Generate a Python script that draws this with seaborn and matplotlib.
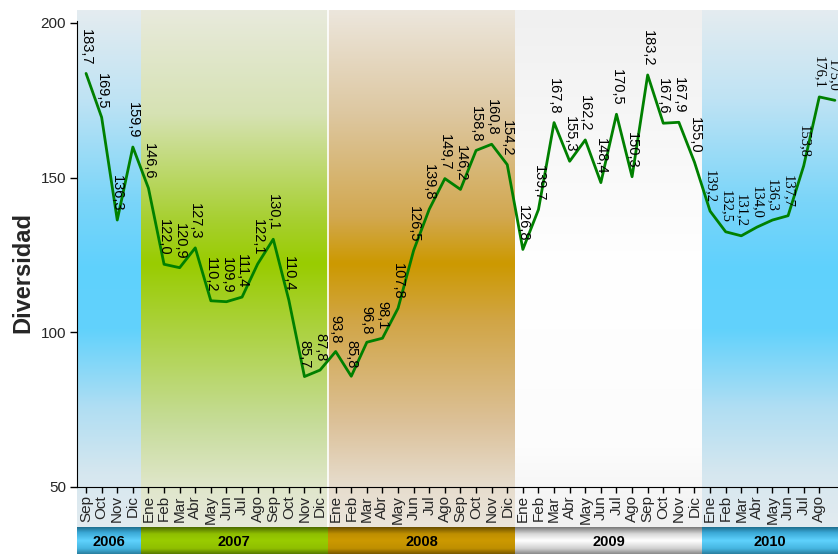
"""
Diversidad mensual Sep 2006 - Sep 2010, con bandas de color por año.
"""
import numpy as np
import matplotlib.pyplot as plt
import seaborn as sns
from matplotlib.colors import to_rgb

sns.set_style("ticks")
plt.rcParams["font.family"] = ["Liberation Sans", "DejaVu Sans"]

# ---------------------------------------------------------------
# Data
# ---------------------------------------------------------------
months_2006 = ["Sep", "Oct", "Nov", "Dic"]
months_full = ["Ene", "Feb", "Mar", "Abr", "May", "Jun",
               "Jul", "Ago", "Sep", "Oct", "Nov", "Dic"]
months_2010 = ["Ene", "Feb", "Mar", "Abr", "May", "Jun", "Jul", "Ago", "Sep"]

vals_2006 = [183.7, 169.5, 136.3, 159.9]
vals_2007 = [146.6, 122.0, 120.9, 127.3, 110.2, 109.9, 111.4, 122.1, 130.1, 110.4, 85.7, 87.8]
vals_2008 = [93.8, 85.8, 96.8, 98.1, 107.8, 126.5, 139.8, 149.7, 146.2, 158.8, 160.8, 154.2]
vals_2009 = [126.8, 139.7, 167.8, 155.3, 162.2, 148.4, 170.5, 150.3, 183.2, 167.6, 167.9, 155.0]
vals_2010 = [139.2, 132.5, 131.2, 134.0, 136.3, 137.7, 153.8, 176.1, 175.0]

years = [2006, 2007, 2008, 2009, 2010]
year_months = [months_2006, months_full, months_full, months_full, months_2010]
year_vals = [vals_2006, vals_2007, vals_2008, vals_2009, vals_2010]

month_labels = [m for ms in year_months for m in ms]
values = [v for vs in year_vals for v in vs]
label_year = [y for y, vs in zip(years, year_vals) for _ in vs]
idx = np.arange(len(values))

# gradient stops (fraction from top, colour)
bg_stops = {
    "blue": [(0, "#e4ecf0"), (0.17, "#bfe3f4"), (0.37, "#7ad5f9"), (0.5, "#5fd1fd"),
             (0.62, "#62d2fc"), (0.77, "#b0def3"), (0.9, "#d6e7ef"), (1, "#e2ebf0")],
    "green": [(0, "#e8eadc"), (0.2, "#d6e2b3"), (0.4, "#a8d033"), (0.49, "#99cc00"),
              (0.6, "#a9d136"), (0.8, "#c6dc99"), (0.92, "#dfe6c9"), (1, "#e7e9dc")],
    "brown": [(0, "#ece6dc"), (0.2, "#ddc7a0"), (0.4, "#d2a850"), (0.49, "#cc9900"),
              (0.6, "#d1a545"), (0.8, "#dcc199"), (0.92, "#e6dccc"), (1, "#ebe5dc")],
    "white": [(0, "#f0f0f0"), (0.5, "#ffffff"), (0.85, "#fcfcfc"), (1, "#f1f1f1")],
}
bar_stops = {
    "blue": [(0, "#1f6f8f"), (0.2, "#3aa8d6"), (0.5, "#5fd2fd"), (0.8, "#45b5e0"), (1, "#2a7fa0")],
    "green": [(0, "#4d6b00"), (0.25, "#8fbf00"), (0.5, "#99cc00"), (0.8, "#8fbf00"), (1, "#587a00")],
    "brown": [(0, "#6b4f00"), (0.25, "#bf8f00"), (0.5, "#cc9900"), (0.8, "#bf8f00"), (1, "#7a5a00")],
    "white": [(0, "#7a7a7a"), (0.25, "#d8d8d8"), (0.5, "#ffffff"), (0.8, "#d0d0d0"), (1, "#8a8a8a")],
}
year_style = ["blue", "green", "brown", "white", "blue"]


def gradient(stops, n=200):
    t = np.linspace(0, 1, n)
    pos = [s[0] for s in stops]
    cols = np.array([to_rgb(s[1]) for s in stops])
    arr = np.stack([np.interp(t, pos, cols[:, k]) for k in range(3)], axis=1)
    return arr[:, None, :]  # rows top -> bottom


# ---------------------------------------------------------------
# Layout (pixels of an 838x554 figure)
# ---------------------------------------------------------------
W, H = 838, 554
fig = plt.figure(figsize=(W / 100, H / 100), dpi=100)
left = 77 / W
xlim = (-0.58, 48.2)

bg_ax = fig.add_axes([left, 27 / H, 1 - left, 517 / H])
bar_ax = fig.add_axes([left, 0, 1 - left, 27 / H])
ax = fig.add_axes([left, 67 / H, 1 - left, 477 / H])
ax.set_facecolor("none")

# year edges in index coordinates
counts = [len(v) for v in year_vals]
edges = np.concatenate([[0], np.cumsum(counts)]) - 0.5
edges[0] = xlim[0]
edges[-1] = xlim[1]

for i, yr in enumerate(years):
    x0, x1 = edges[i], edges[i + 1]
    bg_ax.imshow(gradient(bg_stops[year_style[i]]), extent=(x0, x1, 0, 1),
                 aspect="auto", interpolation="bilinear")
    bar_ax.imshow(gradient(bar_stops[year_style[i]], 60), extent=(x0, x1, 0, 1),
                  aspect="auto", interpolation="bilinear")
    bar_ax.text((x0 + x1) / 2, 0.45, str(yr), ha="center", va="center",
                fontsize=10.5, fontweight="bold", color="black")
bg_ax.axvline(edges[2], color="white", lw=1.2)

for a in (bg_ax, bar_ax):
    a.set_xlim(xlim)
    a.set_ylim(0, 1)
    a.axis("off")

# ---------------------------------------------------------------
# Line + value labels
# ---------------------------------------------------------------
sns.lineplot(x=idx, y=values, color="#008000", lw=2, ax=ax)

for x, v, yr in zip(idx, values, label_year):
    if yr == 2010:
        fam = ["Liberation Serif", "DejaVu Serif"]
    else:
        fam = ["Liberation Sans", "DejaVu Sans"]
    dx = -1.5 if x == idx[-1] else 0  # last label sits on the right edge
    ax.annotate(f"{v:.1f}".replace(".", ","), (x, v), xytext=(dx, 6),
                textcoords="offset points", rotation=-90, ha="center", va="bottom",
                fontsize=10.5, family=fam, color="black")

ax.set_xlim(xlim)
ax.set_ylim(50, 204.2)
# the last month (Sep 2010) has no visible tick label
ax.set_xticks(idx[:-1])
ax.set_xticklabels(month_labels[:-1], rotation=90, fontsize=11)
ax.set_yticks([50, 100, 150, 200])
ax.tick_params(axis="y", labelsize=11, length=5, width=1, color="black", pad=3)
ax.tick_params(axis="x", length=4, width=1, color="black", pad=2)
for s in ["top", "right"]:
    ax.spines[s].set_visible(False)
ax.spines["left"].set_color("black")
ax.spines["bottom"].set_color("black")
ax.spines["left"].set_bounds(50, 200.6)

ax.set_ylabel("Diversidad", fontsize=17, fontweight="bold")
ax.yaxis.set_label_coords(-0.0565, 0.45)
ax.set_xlabel("")

plt.savefig("out.png", dpi=100)
plt.close()
